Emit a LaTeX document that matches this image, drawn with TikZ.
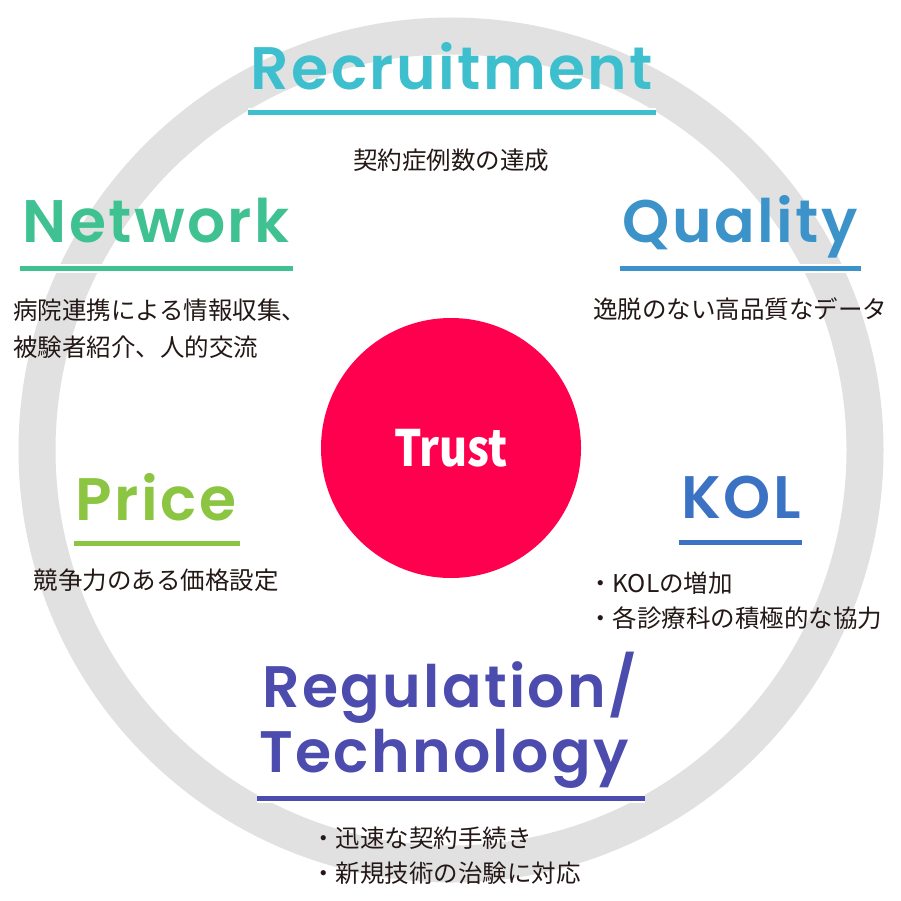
\documentclass[tikz,border=0pt]{standalone}
\usepackage{fontspec}
\usepackage[outline]{contour}
\setmainfont{Noto Sans CJK JP}
\newfontfamily\headfont{Poppins SemiBold}[LetterSpace=4]
\newfontfamily\trustfont{Noto Sans CJK JP}[FakeStretch=0.86]
\usetikzlibrary{positioning}
\contourlength{2.5pt}

\definecolor{ringgray}{HTML}{E1E1E1}
\definecolor{trustred}{HTML}{FF004F}
\definecolor{notegray}{HTML}{231815}
\definecolor{recruitcol}{HTML}{3DBFCE}
\definecolor{networkcol}{HTML}{3FC192}
\definecolor{qualitycol}{HTML}{3B93C9}
\definecolor{pricecol}{HTML}{8CC541}
\definecolor{kolcol}{HTML}{3B72C3}
\definecolor{regcol}{HTML}{4C4BAE}

\tikzset{
  heading/.style={inner sep=0pt, anchor=base, font=\headfont\fontsize{60}{60}\selectfont},
  underline/.style={line width=5pt, preaction={draw=white, line width=9pt}},
  note/.style={inner sep=0pt, text=notegray, font=\fontsize{24.5}{24.5}\selectfont},
}

\begin{document}
\begin{tikzpicture}[x=1pt,y=-1pt]
		\useasboundingbox (0,0) rectangle (901,901);

		% Define the centre of the ring
		\coordinate (O) at (451,450);
		\draw[ringgray, line width=37pt] (O) circle (414);

		% Trust in the middle
		\node[circle, fill=trustred, minimum size=260pt, inner sep=0pt, text=white,
			font=\trustfont\bfseries\fontsize{50}{50}\selectfont] (trust) at (451,448) {Trust};

		% Headings
		\foreach \name/\col/\x/\y/\txt in {rec/recruitcol/452/90/Recruitment,
				net/networkcol/156/243/Network, qual/qualitycol/740/243/Quality,
				price/pricecol/156/520/Price, kol/kolcol/741/518/KOL}
			\node[heading, text=\col] (\name) at (\x,\y) {\contour{white}{\txt}};
		\node[heading, anchor=base west, text=regcol, font=\headfont\fontsize{58.5}{58.5}\selectfont] (reg) at (262,707) {\contour{white}{Regulation/}};
		\node[heading, anchor=base west, text=regcol, font=\headfont\fontsize{58.5}{58.5}\selectfont] (tech) at (259,772) {\contour{white}{Technology}};

		% Underlines
		\foreach \col/\xa/\xb/\y in {recruitcol/248/656/113, networkcol/20/293/268,
				qualitycol/620/861/268, pricecol/74/240/543, kolcol/679/802/542, regcol/257/645/798}
			\draw[underline, \col] (\xa,\y) -- (\xb,\y);

		% Notes
		\node[note] (recnote) at (451,160) {\contour{white}{契約症例数の達成}};
		\node[note, anchor=west] (netnote1) at (13,310) {\contour{white}{病院連携による情報収集、}};
		\node[note, anchor=west] (netnote2) at (13,347) {\contour{white}{被験者紹介、人的交流}};
		\node[note] (qualnote) at (740,309) {\contour{white}{逸脱のない高品質なデータ}};
		\node[note] (pricenote) at (156,580) {\contour{white}{競争力のある価格設定}};
		\node[note, anchor=west] (kolnote1) at (588,583) {\contour{white}{・KOLの増加}};
		\node[note, anchor=west] (kolnote2) at (588,618) {\contour{white}{・各診療科の積極的な協力}};
		\node[note, anchor=west] (regnote1) at (311,838) {\contour{white}{・迅速な契約手続き}};
		\node[note, anchor=west] (regnote2) at (311,873) {\contour{white}{・新規技術の治験に対応}};
	\end{tikzpicture}
\end{document}
